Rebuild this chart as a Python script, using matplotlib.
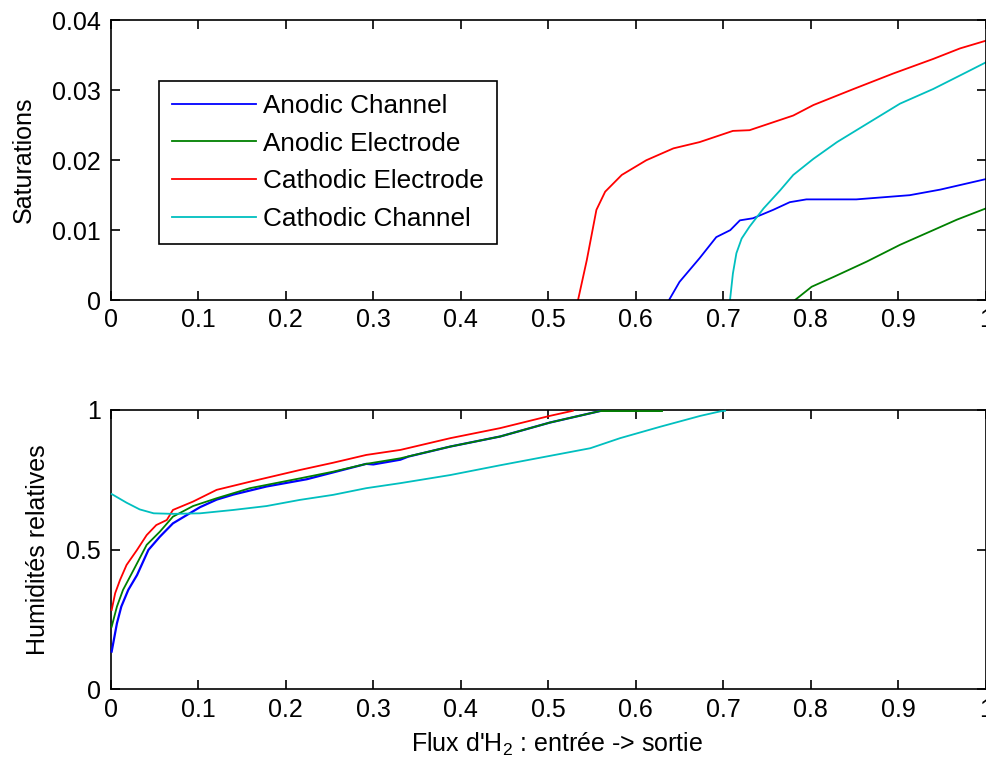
import matplotlib
matplotlib.use("Agg")
from matplotlib import pyplot as plt

plt.rcParams['font.family'] = ['Liberation Sans', 'DejaVu Sans']
plt.rcParams['mathtext.fontset'] = 'custom'
plt.rcParams['mathtext.rm'] = 'Liberation Sans'
plt.rcParams['mathtext.it'] = 'Liberation Sans:italic'

# legend / series names
names = ['Anodic Channel', 'Anodic Electrode', 'Cathodic Electrode', 'Cathodic Channel']
colors = ['#0000ff', '#008000', '#ff0000', '#00bfbf']

# top panel: saturations
sat_ac_x = [0.638, 0.650, 0.673, 0.692, 0.708, 0.719, 0.734, 0.757, 0.776, 0.795, 0.852, 0.913, 0.948, 1.0]
sat_ac_y = [0.0, 0.0026, 0.0060, 0.0090, 0.0100, 0.0114, 0.0117, 0.0129, 0.0140, 0.0144, 0.0144, 0.0150, 0.0158, 0.0173]
sat_ae_x = [0.782, 0.801, 0.826, 0.864, 0.902, 0.940, 0.967, 1.0]
sat_ae_y = [0.0, 0.0019, 0.0033, 0.0055, 0.0079, 0.0100, 0.0115, 0.0131]
sat_ce_x = [0.534, 0.544, 0.555, 0.565, 0.584, 0.612, 0.643, 0.673, 0.711, 0.730, 0.780, 0.803, 0.849, 0.894, 0.940, 0.9705, 1.0]
sat_ce_y = [0.0, 0.0057, 0.0129, 0.0155, 0.0179, 0.0200, 0.0217, 0.0226, 0.0242, 0.0243, 0.0264, 0.0279, 0.0302, 0.0324, 0.0345, 0.0360, 0.0371]
sat_cc_x = [0.7077, 0.711, 0.715, 0.721, 0.730, 0.746, 0.765, 0.780, 0.803, 0.830, 0.864, 0.902, 0.940, 0.978, 1.0]
sat_cc_y = [0.0, 0.0038, 0.0067, 0.0088, 0.0105, 0.0131, 0.0157, 0.0179, 0.0202, 0.0226, 0.0252, 0.0281, 0.0302, 0.0326, 0.0340]

# bottom panel: relative humidities
hr_ac_x = [0.001, 0.007, 0.012, 0.020, 0.030, 0.043, 0.056, 0.071, 0.087, 0.102, 0.121, 0.140, 0.178, 0.224, 0.240, 0.292, 0.300, 0.331, 0.340, 0.388, 0.445, 0.502, 0.559]
hr_ac_y = [0.135, 0.236, 0.296, 0.356, 0.409, 0.499, 0.546, 0.594, 0.624, 0.652, 0.679, 0.697, 0.726, 0.752, 0.765, 0.807, 0.805, 0.822, 0.833, 0.869, 0.905, 0.955, 0.996]
hr_ae_x = [0.001, 0.007, 0.014, 0.026, 0.041, 0.056, 0.071, 0.094, 0.121, 0.159, 0.216, 0.254, 0.292, 0.331, 0.388, 0.445, 0.502, 0.559, 0.630]
hr_ae_y = [0.224, 0.296, 0.356, 0.427, 0.517, 0.564, 0.618, 0.656, 0.684, 0.720, 0.755, 0.779, 0.807, 0.827, 0.869, 0.905, 0.955, 0.996, 0.996]
hr_ce_x = [0.001, 0.005, 0.0105, 0.018, 0.030, 0.041, 0.052, 0.064, 0.071, 0.094, 0.121, 0.159, 0.216, 0.254, 0.292, 0.331, 0.388, 0.445, 0.502, 0.528]
hr_ce_y = [0.284, 0.344, 0.391, 0.445, 0.499, 0.552, 0.588, 0.606, 0.642, 0.672, 0.714, 0.743, 0.785, 0.811, 0.839, 0.857, 0.899, 0.935, 0.979, 0.997]
hr_cc_x = [0.001, 0.018, 0.033, 0.049, 0.071, 0.102, 0.140, 0.178, 0.216, 0.254, 0.292, 0.331, 0.388, 0.445, 0.494, 0.548, 0.582, 0.628, 0.674, 0.698, 0.702]
hr_cc_y = [0.699, 0.668, 0.644, 0.630, 0.628, 0.630, 0.642, 0.656, 0.678, 0.696, 0.720, 0.738, 0.767, 0.802, 0.831, 0.863, 0.899, 0.940, 0.979, 0.996, 0.997]

xticks = [0, 0.1, 0.2, 0.3, 0.4, 0.5, 0.6, 0.7, 0.8, 0.9, 1]
xlabels = ['0', '0.1', '0.2', '0.3', '0.4', '0.5', '0.6', '0.7', '0.8', '0.9', '1']

fig = plt.figure(figsize=(9.86, 7.64), dpi=100)
ax1 = fig.add_axes([0.11237, 0.6073, 0.8874, 0.3659])
ax2 = fig.add_axes([0.11237, 0.0978, 0.8874, 0.3656])

def style(ax):
    ax.set_xlim(0, 1)
    ax.set_xticks(xticks)
    ax.set_xticklabels(xlabels)
    ax.tick_params(direction='in', length=6.5, width=1.2, labelsize=18,
                   top=True, right=True, pad=6)
    ax.tick_params(axis='y', pad=7)
    for s in ax.spines.values():
        s.set_linewidth(1.2)

lw = 1.3
ax1.plot(sat_ac_x, sat_ac_y, color=colors[0], lw=lw, label=names[0])
ax1.plot(sat_ae_x, sat_ae_y, color=colors[1], lw=lw, label=names[1])
ax1.plot(sat_ce_x, sat_ce_y, color=colors[2], lw=lw, label=names[2])
ax1.plot(sat_cc_x, sat_cc_y, color=colors[3], lw=lw, label=names[3])
style(ax1)
ax1.set_ylim(0, 0.04)
ax1.set_yticks([0, 0.01, 0.02, 0.03, 0.04])
ax1.set_yticklabels(['0', '0.01', '0.02', '0.03', '0.04'])
ax1.set_ylabel('Saturations', fontsize=18, labelpad=11.5)
leg = ax1.legend(loc='upper left', bbox_to_anchor=(0.055, 0.7835), borderaxespad=0,
                 fontsize=18.8, handlelength=3.2, handletextpad=0.3, labelspacing=0.52,
                 borderpad=0.5, fancybox=False, framealpha=1, edgecolor='black')
leg.get_frame().set_linewidth(1.2)

ax2.plot(hr_ac_x, hr_ac_y, color=colors[0], lw=lw + 0.3, clip_on=False, zorder=3)
ax2.plot(hr_ae_x, hr_ae_y, color=colors[1], lw=lw, clip_on=False, zorder=3)
ax2.plot(hr_ce_x, hr_ce_y, color=colors[2], lw=lw, clip_on=False, zorder=3)
ax2.plot(hr_cc_x, hr_cc_y, color=colors[3], lw=lw, clip_on=False, zorder=3)
style(ax2)
ax2.set_ylim(0, 1)
ax2.set_yticks([0, 0.5, 1])
ax2.set_yticklabels(['0', '0.5', '1'])
ax2.set_ylabel('Humidités relatives', fontsize=18, labelpad=11.5)
ax2.set_xlabel("Flux d'H$_2$ : entrée -> sortie", fontsize=18)
ax2.xaxis.set_label_coords(0.51, -0.148)
ax2.xaxis.label.set_va('top')

plt.savefig('out.png', dpi=100)
